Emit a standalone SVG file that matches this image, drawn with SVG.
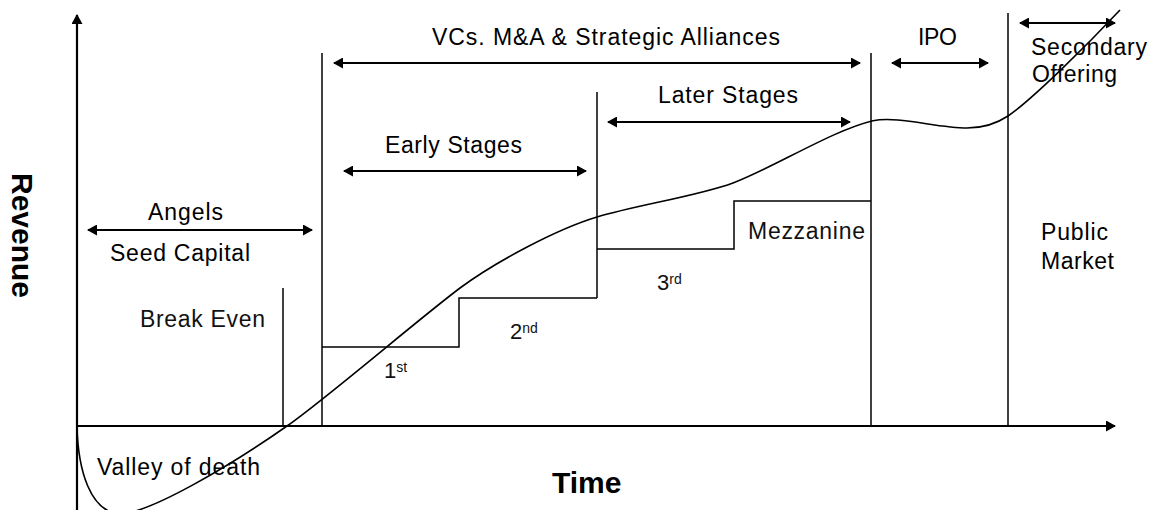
<svg xmlns="http://www.w3.org/2000/svg" width="1159" height="510" viewBox="0 0 1159 510">
  <style>
    .axis { stroke: #000; stroke-width: 2.2; fill: none; }
    .bound { stroke: #000; stroke-width: 1.5; fill: none; }
    .step { stroke: #000; stroke-width: 1.5; fill: none; }
    .span { stroke: #000; stroke-width: 2; fill: none; marker-start: url(#head); marker-end: url(#head); }
    .curve { stroke: #000; stroke-width: 1.6; fill: none; }
    .lbl { font-family: "Liberation Sans", Arial, sans-serif; font-size: 23px; fill: #000; }
    .thin { font-family: "Liberation Sans", Arial, sans-serif; font-size: 23px; fill: #111; }
    .ord { font-family: "Liberation Sans", Arial, sans-serif; font-size: 22px; fill: #111; }
    .sup { font-size: 14px; }
    .title { font-family: "Liberation Sans", Arial, sans-serif; font-size: 30px; font-weight: bold; fill: #000; }
  </style>
  <defs>
    <marker id="head" viewBox="0 0 10 11" refX="9" refY="5.5" markerWidth="10" markerHeight="11" markerUnits="userSpaceOnUse" orient="auto-start-reverse">
      <path d="M0,0 L10,5.5 L0,11 z" fill="#000"/>
    </marker>
  </defs>
  <rect width="1159" height="510" fill="#fff"/>

  <!-- axes -->
  <g id="axes">
    <line class="axis" x1="77" y1="510" x2="77" y2="15" marker-end="url(#head)"/>
    <line class="axis" x1="77" y1="426" x2="1115" y2="426" marker-end="url(#head)"/>
  </g>

  <!-- phase boundaries -->
  <g id="boundaries">
    <line class="bound" x1="283" y1="288" x2="283" y2="426"/>
    <line class="bound" x1="322" y1="53" x2="322" y2="426"/>
    <line class="bound" x1="597" y1="92" x2="597" y2="298"/>
    <line class="bound" x1="871" y1="53" x2="871" y2="426"/>
    <line class="bound" x1="1008" y1="13" x2="1008" y2="426"/>
  </g>

  <!-- funding rounds staircase -->
  <g id="rounds">
    <polyline class="step" points="322,347 459,347 459,298 597,298"/>
    <polyline class="step" points="597,249 734,249 734,201 871,201"/>
  </g>

  <!-- range arrows -->
  <g id="connectors">
    <line class="span" x1="88" y1="230" x2="312" y2="230"/>
    <line class="span" x1="334" y1="63" x2="860" y2="63"/>
    <line class="span" x1="344" y1="171" x2="586" y2="171"/>
    <line class="span" x1="608" y1="122" x2="850" y2="122"/>
    <line class="span" x1="892" y1="63" x2="988" y2="63"/>
    <line class="span" x1="1020" y1="23" x2="1115" y2="23"/>
  </g>

  <!-- revenue curve -->
  <g id="revenue-curve">
    <path class="curve" d="M77,426 C78,470 90,512 120,514 C150,513 230,466 287,426 C327,398 415,322 460,288 C495,262 557,229 597,217 C637,205 698,196 733,183 C773,168 833,130 873,120.7 C898,115.7 937,128 967,128 C982,128 996,124 1008,116 C1033,99 1090,42 1120,10"/>
  </g>

  <!-- labels -->
  <g id="label-vcs"><text class="lbl" x="432" y="45" textLength="348" lengthAdjust="spacing">VCs. M&amp;A &amp; Strategic Alliances</text></g>
  <g id="label-ipo"><text class="lbl" x="918" y="45" textLength="39" lengthAdjust="spacing">IPO</text></g>
  <g id="label-secondary">
    <text class="lbl" x="1031" y="54.5" textLength="116" lengthAdjust="spacing">Secondary</text>
    <text class="lbl" x="1032" y="81.5" textLength="85" lengthAdjust="spacing">Offering</text>
  </g>
  <g id="label-later"><text class="lbl" x="658" y="103" textLength="140" lengthAdjust="spacing">Later Stages</text></g>
  <g id="label-early"><text class="lbl" x="385" y="153" textLength="137" lengthAdjust="spacing">Early Stages</text></g>
  <g id="label-angels">
    <text class="lbl" x="148" y="220" textLength="75" lengthAdjust="spacing">Angels</text>
    <text class="lbl" x="110" y="261" textLength="140" lengthAdjust="spacing">Seed Capital</text>
  </g>
  <g id="label-break-even"><text class="thin" x="140" y="327" textLength="125" lengthAdjust="spacing">Break Even</text></g>
  <g id="label-valley"><text class="lbl" x="97" y="475" textLength="163" lengthAdjust="spacing">Valley of death</text></g>
  <g id="label-mezzanine"><text class="thin" x="748" y="239" textLength="117" lengthAdjust="spacing">Mezzanine</text></g>
  <g id="label-public">
    <text class="lbl" x="1041" y="240" textLength="67" lengthAdjust="spacing">Public</text>
    <text class="lbl" x="1041" y="269" textLength="73" lengthAdjust="spacing">Market</text>
  </g>
  <g id="label-rounds">
    <text class="ord" x="384" y="378">1<tspan class="sup" dy="-6">st</tspan></text>
    <text class="ord" x="510" y="339">2<tspan class="sup" dy="-6.5">nd</tspan></text>
    <text class="ord" x="657" y="290">3<tspan class="sup" dy="-6.5">rd</tspan></text>
  </g>
  <g id="axis-titles">
    <text class="title" x="552" y="493">Time</text>
    <text class="title" transform="translate(12,173) rotate(90)">Revenue</text>
  </g>
</svg>
